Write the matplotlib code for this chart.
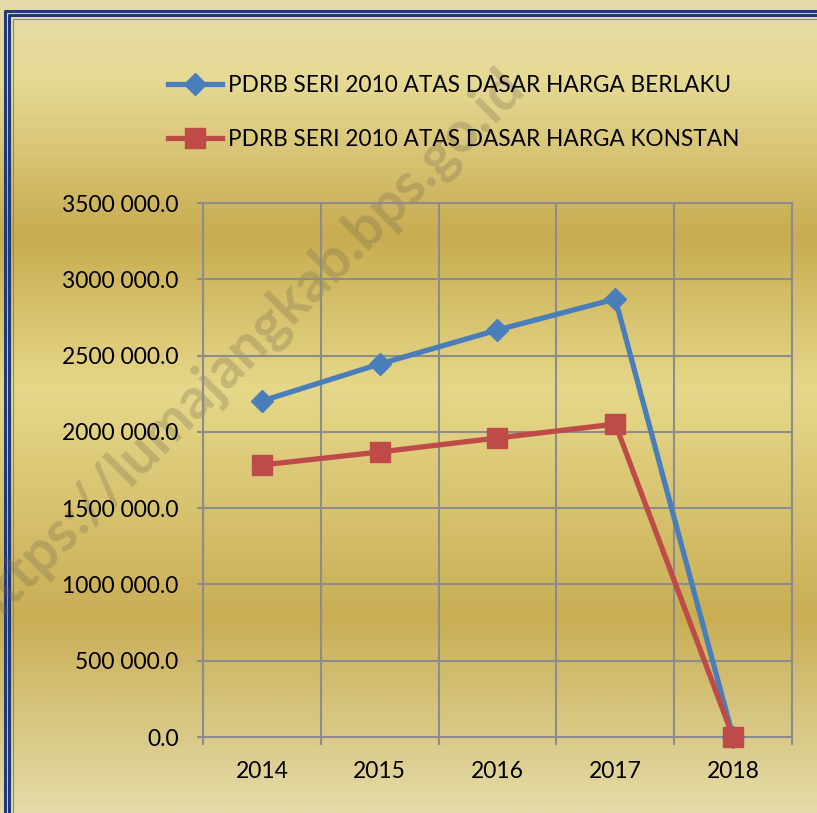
import numpy as np
import matplotlib
matplotlib.use('Agg')
import matplotlib.pyplot as plt
from matplotlib.colors import LinearSegmentedColormap
from matplotlib.lines import Line2D

# data
years = ['2014', '2015', '2016', '2017', '2018']
berlaku = [2202000.0, 2445000.0, 2668000.0, 2871000.0, 0.0]
konstan = [1783000.0, 1868000.0, 1960000.0, 2051000.0, 0.0]
label_berlaku = 'PDRB SERI 2010 ATAS DASAR HARGA BERLAKU'
label_konstan = 'PDRB SERI 2010 ATAS DASAR HARGA KONSTAN'
y_ticks = [0, 500000, 1000000, 1500000, 2000000, 2500000, 3000000, 3500000]
y_labels = ['0.0', '500 000.0', '1000 000.0', '1500 000.0', '2000 000.0',
            '2500 000.0', '3000 000.0', '3500 000.0']

plt.rcParams['font.family'] = ['Lato', 'DejaVu Sans']

W, H = 817, 813
fig = plt.figure(figsize=(W / 100, H / 100), dpi=100)

# gold gradient background
bg = fig.add_axes([0, 0, 1, 1], zorder=0)
stops = [(0.0, '#e5dba8'), (0.10, '#e6d994'), (0.29, '#c8ac50'),
         (0.48, '#e6d88a'), (0.76, '#c9ae55'), (1.0, '#e5dba8')]
cmap = LinearSegmentedColormap.from_list('gold', stops)
grad = np.linspace(0, 1, 400).reshape(-1, 1)
bg.imshow(grad, aspect='auto', cmap=cmap, extent=[0, W, H, 0])
bg.set_xlim(0, W)
bg.set_ylim(H, 0)
bg.axis('off')

# double navy frame (left and top only visible)
navy = '#1f3a78'
for off, lw in [(5, 2.2), (9.5, 2.2)]:
    bg.plot([off, off, W], [H, off + 6, off + 6], color=navy, lw=lw, solid_joinstyle='round')
bg.plot([13, 13, W], [H, 19, 19], color='#7d8aa0', lw=0.8)

# watermark
bg.text(246, 347, 'https://lumajangkab.bps.go.id', rotation=45, fontsize=41,
        fontweight='bold', color='#6e6650', alpha=0.28, ha='center', va='center',
        rotation_mode='anchor', zorder=5)

ax = fig.add_axes([203 / W, 1 - 737 / H, 589 / W, 534 / H], zorder=2)
ax.patch.set_alpha(0)

x = np.arange(len(years))
ax.plot(x, berlaku, color='#4a7ebb', lw=3.8, marker='D', markersize=11,
        solid_joinstyle='round', zorder=4, clip_on=False)
ax.plot(x, konstan, color='#be4b48', lw=3.8, marker='s', markersize=14,
        solid_joinstyle='round', zorder=4, clip_on=False)

ax.set_xlim(-0.5, len(years) - 0.5)
ax.set_ylim(0, 3500000)
ax.set_yticks(y_ticks)
ax.set_yticklabels(y_labels)
ax.set_xticks(x)
ax.set_xticklabels(years)
ax.set_xticks(np.arange(-0.5, len(years)), minor=True)

grid_c = '#8c8c8c'
ax.grid(True, axis='y', which='major', color=grid_c, lw=1.5)
ax.grid(True, axis='x', which='minor', color=grid_c, lw=1.5)
ax.grid(False, axis='x', which='major')
ax.set_axisbelow(True)
for s in ax.spines.values():
    s.set_color(grid_c)
    s.set_linewidth(1.5)

ax.tick_params(axis='y', which='major', length=4.5, width=1.5, color=grid_c,
               labelsize=16.5, pad=13)
ax.tick_params(axis='x', which='major', length=0, labelsize=16.5, pad=17)
ax.tick_params(axis='x', which='minor', length=6, width=1.5, color=grid_c)

handles = [Line2D([], [], color='#4a7ebb', lw=3.8, marker='D', markersize=11),
           Line2D([], [], color='#be4b48', lw=3.8, marker='s', markersize=14)]
fig.legend(handles, [label_berlaku, label_konstan], loc='upper left',
           bbox_to_anchor=(168 / W, 1 - 75 / H), frameon=False, fontsize=16.3,
           handlelength=2.4, handletextpad=0.27, labelspacing=1.47,
           borderpad=0, borderaxespad=0)

fig.savefig('out.png', dpi=100)
